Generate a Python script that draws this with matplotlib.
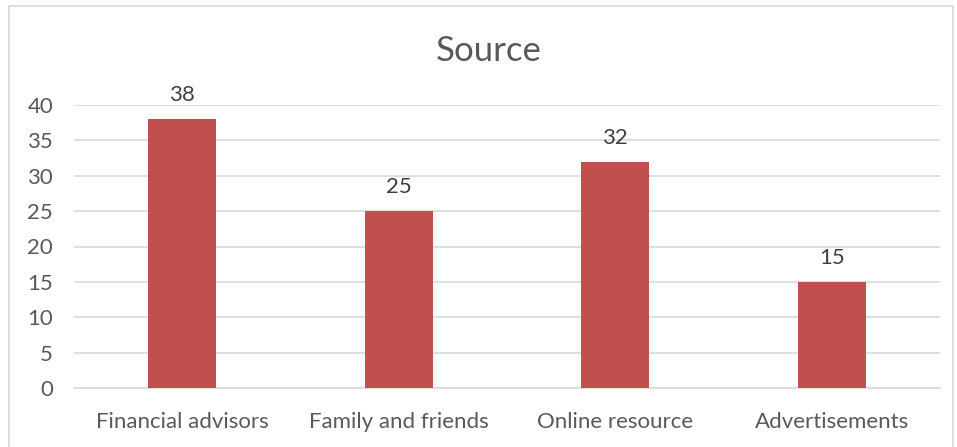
import matplotlib
matplotlib.use("Agg")
from matplotlib import pyplot as plt
from matplotlib.patches import Rectangle

# Survey results: where respondents get their information
categories = ["Financial advisors", "Family and friends", "Online resource", "Advertisements"]
counts = [38, 25, 32, 15]
y_ticks = [0, 5, 10, 15, 20, 25, 30, 35, 40]

bar_color = "#C0504D"
text_color = "#595959"
grid_color = "#D9D9D9"

plt.rcParams["font.family"] = ["Lato", "DejaVu Sans"]

fig = plt.figure(figsize=(9.57, 4.47), dpi=100)
ax = fig.add_axes([74 / 957, 59 / 447, 866 / 957, 283 / 447])

x = range(len(categories))
bars = ax.bar(x, counts, width=0.314, color=bar_color, zorder=3)
for rect, val in zip(bars, counts):
    ax.annotate(str(val), (rect.get_x() + rect.get_width() / 2, val),
                xytext=(0, 10), textcoords="offset points",
                ha="center", va="bottom", fontsize=16, color="#404040")

ax.set_xlim(-0.5, len(categories) - 0.5)
ax.set_ylim(0, 40)
ax.set_yticks(y_ticks)
ax.set_xticks(list(x))
ax.set_xticklabels(categories)
ax.tick_params(axis="both", length=0, labelsize=16, colors=text_color)
ax.tick_params(axis="x", pad=17)
ax.tick_params(axis="y", pad=15)
for lbl in ax.get_yticklabels():
    lbl.set_horizontalalignment("right")
ax.grid(axis="y", color=grid_color, linewidth=1.2, zorder=0)
for side in ["top", "right", "left"]:
    ax.spines[side].set_visible(False)
ax.spines["bottom"].set_color(grid_color)
ax.spines["bottom"].set_linewidth(1.2)

fig.text(489 / 957, 1 - 51 / 447, "Source", ha="center", va="center",
         fontsize=25, color=text_color)

# chart area border
fig.patches.append(Rectangle((9 / 957, -0.05), 944 / 957, 1 - 6 / 447 + 0.05,
                             transform=fig.transFigure, fill=False,
                             edgecolor=grid_color, linewidth=1.2))

fig.savefig("out.png", dpi=100)
